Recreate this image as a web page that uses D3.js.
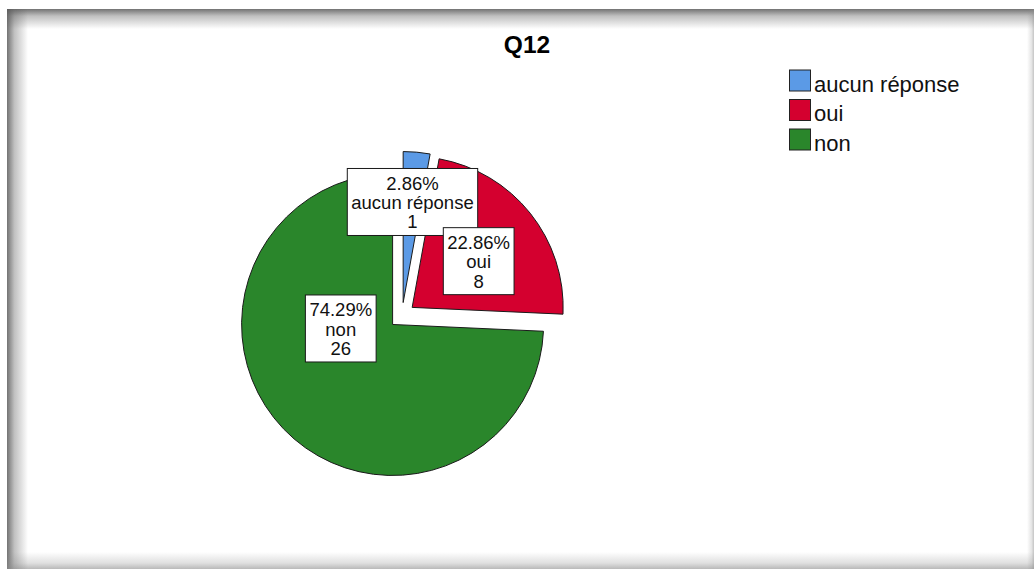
<!DOCTYPE html>
<html>
<head>
<meta charset="utf-8">
<script src="https://cdn.jsdelivr.net/npm/d3@7"></script>
<style>
  html, body { margin: 0; padding: 0; background: #fff; }
  svg { display: block; }
  text { font-family: "Liberation Sans", Arial, sans-serif; }
</style>
</head>
<body>
<div id="chart"></div>
<script>
// ---- data ----
const title = "Q12";
const categories = ["aucun réponse", "oui", "non"];
const counts = [1, 8, 26];
const colors = ["#5b9ae6", "#d4002f", "#2a862b"];

// ---- layout ----
const W = 1034, H = 569;
const center = [402, 315.5];
const radius = 151;
const explode = 13;
// label anchor relative to each exploded slice's apex: [angle (deg, clockwise from 12 o'clock), distance px]
const labelLayout = [[5.3, 101], [55.2, 81], [265.6, 52]];

const svg = d3.select("#chart").append("svg").attr("width", W).attr("height", H);
const defs = svg.append("defs");

// frame with inset shadow
const fx = 7, fy = 9, fw = W - 7, fh = H - 9;
svg.append("rect").attr("x", fx).attr("y", fy).attr("width", fw).attr("height", fh).attr("fill", "#fff");
function grad(id, x1, y1, x2, y2, c0, o0) {
  const g = defs.append("linearGradient").attr("id", id)
    .attr("x1", x1).attr("y1", y1).attr("x2", x2).attr("y2", y2);
  g.append("stop").attr("offset", "0%").attr("stop-color", c0).attr("stop-opacity", o0);
  g.append("stop").attr("offset", "35%").attr("stop-color", c0).attr("stop-opacity", o0 * 0.45);
  g.append("stop").attr("offset", "100%").attr("stop-color", c0).attr("stop-opacity", 0);
}
grad("gTop", 0, 0, 0, 1, "#5a5a5a", 0.85);
grad("gLeft", 0, 0, 1, 0, "#5a5a5a", 0.85);
grad("gRight", 1, 0, 0, 0, "#8a8a8a", 0.5);
grad("gBot", 0, 1, 0, 0, "#8a8a8a", 0.6);
svg.append("rect").attr("x", fx).attr("y", fy).attr("width", fw).attr("height", 20).attr("fill", "url(#gTop)");
svg.append("rect").attr("x", fx).attr("y", fy).attr("width", 21).attr("height", fh).attr("fill", "url(#gLeft)");
svg.append("rect").attr("x", W - 7).attr("y", fy).attr("width", 7).attr("height", fh).attr("fill", "url(#gRight)");
svg.append("rect").attr("x", fx).attr("y", H - 17).attr("width", fw).attr("height", 17).attr("fill", "url(#gBot)");

// title
svg.append("text").attr("x", 527).attr("y", 53).attr("text-anchor", "middle")
  .attr("font-size", 24.5).attr("font-weight", "bold").attr("fill", "#000").text(title);

// pie
const total = d3.sum(counts);
const data = categories.map((c, i) => ({ cat: c, count: counts[i], color: colors[i] }));
const pie = d3.pie().sort(null).value(d => d.count);
const arcs = pie(data);
const arc = d3.arc().innerRadius(0).outerRadius(radius);
const pct = d3.format(".2f");

const g = svg.append("g").attr("transform", `translate(${center[0]},${center[1]})`);
const apex = a => {
  const m = (a.startAngle + a.endAngle) / 2;
  return [Math.sin(m) * explode, -Math.cos(m) * explode];
};
g.selectAll("path.slice").data(arcs).join("path")
  .attr("class", "slice")
  .attr("transform", d => `translate(${apex(d)[0]},${apex(d)[1]})`)
  .attr("d", arc)
  .attr("fill", d => d.data.color)
  .attr("stroke", "#1a1a1a").attr("stroke-width", 1);

// labels
const fs = 18.5, lh = 19.3;
arcs.forEach((a, i) => {
  const [ax, ay] = apex(a);
  const [ang, dist] = labelLayout[i];
  const t = ang * Math.PI / 180;
  const cx = ax + Math.sin(t) * dist, cy = ay - Math.cos(t) * dist;
  const lines = [pct(a.data.count / total * 100) + "%", a.data.cat, String(a.data.count)];
  const lg = g.append("g");
  const rect = lg.append("rect");
  const boxH = 67;
  const top = cy - boxH / 2;
  const txt = lg.append("text").attr("text-anchor", "middle").attr("font-size", fs).attr("fill", "#111");
  lines.forEach((s, j) => {
    txt.append("tspan").attr("x", cx).attr("y", top + 21.4 + j * lh).text(s);
  });
  const tw = d3.max(txt.selectAll("tspan").nodes(), n => n.getComputedTextLength());
  const bw = tw + 8;
  rect.attr("x", cx - bw / 2).attr("y", top).attr("width", bw).attr("height", boxH)
    .attr("fill", "#fff").attr("stroke", "#1a1a1a").attr("stroke-width", 1);
});

// legend
const lgX = 789, lgY = 69.5, lgStep = 29.5, sw = 21;
const leg = svg.append("g");
categories.forEach((c, i) => {
  const y = lgY + i * lgStep;
  leg.append("rect").attr("x", lgX + 0.5).attr("y", y + 0.5).attr("width", sw).attr("height", sw)
    .attr("fill", colors[i]).attr("stroke", "#222").attr("stroke-width", 1);
  leg.append("text").attr("x", lgX + sw + 4).attr("y", y + 22).attr("font-size", 22)
    .attr("fill", "#111").text(c);
});
</script>
</body>
</html>
